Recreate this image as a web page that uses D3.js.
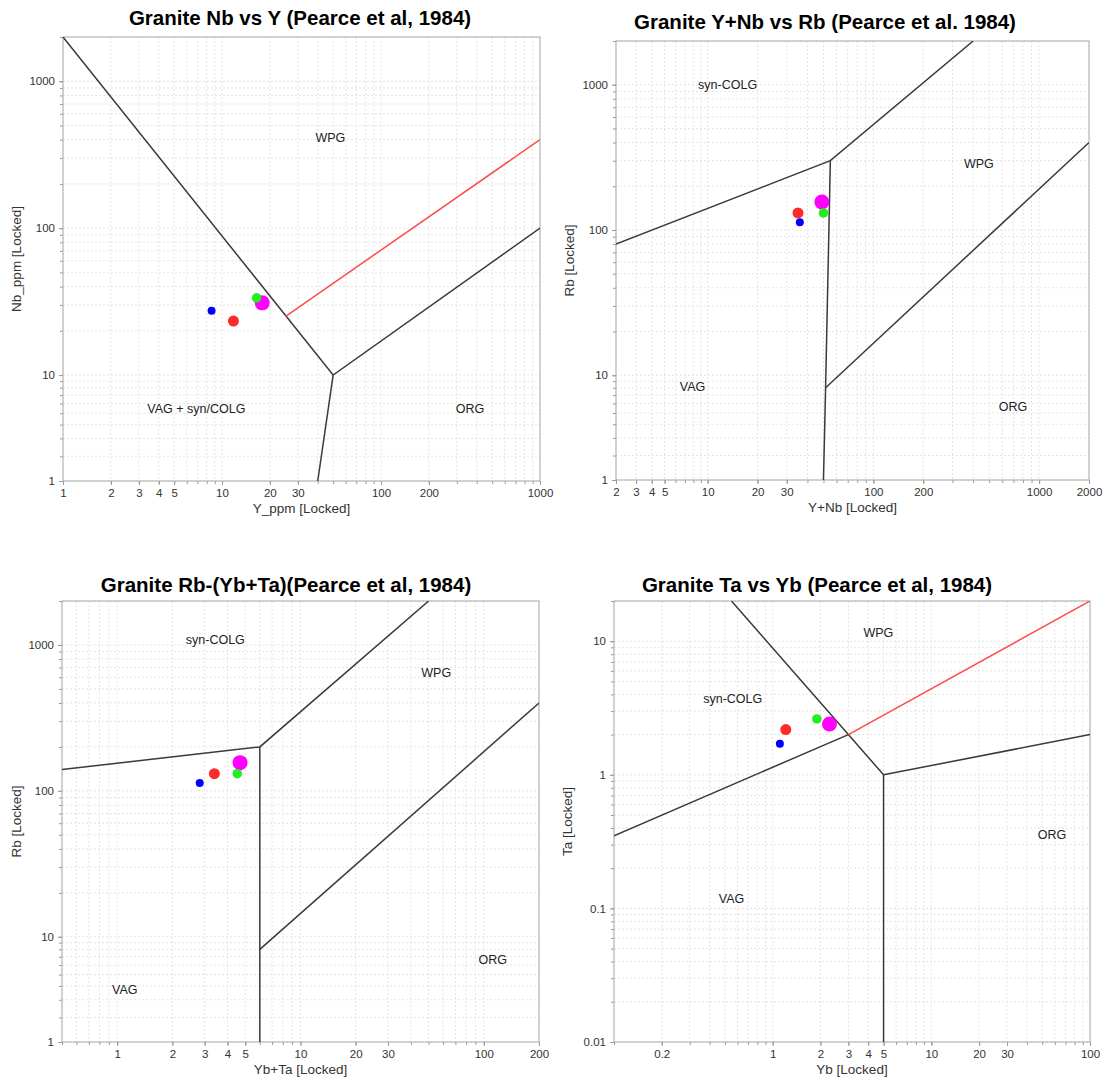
<!DOCTYPE html>
<html><head><meta charset="utf-8">
<script src="https://cdn.jsdelivr.net/npm/d3@7"></script>
<style>
body{margin:0;background:#fff;font-family:"Liberation Sans",Arial,sans-serif;}
</style></head>
<body><svg id="c" width="1103" height="1080"></svg>
<script>
// ---- sample data (4 samples) ----
const samples = ["S1","S2","S3","S4"];
const Y_ppm  = [8.6, 11.8, 16.5, 17.9];
const Nb_ppm = [27.4, 23.3, 33.5, 31.0];
const Rb_ppm = [113, 131, 131, 156];
const Yb_ppm = [1.11, 1.21, 1.90, 2.28];
const Ta_ppm = [1.71, 2.18, 2.62, 2.40];
const YNb = Y_ppm.map((v,i)=>v+Nb_ppm[i]);
const YbTa = Yb_ppm.map((v,i)=>v+Ta_ppm[i]);

// ---- tick labels ----
const p1XTicks = [1,2,3,4,5,10,20,30,100,200,1000];
const p1YTicks = [1,10,100,1000];
const p2XTicks = [2,3,4,5,10,20,30,100,200,1000,2000];
const p2YTicks = [1,10,100,1000];
const p3XTicks = [1,2,3,4,5,10,20,30,100,200];
const p3YTicks = [1,10,100,1000];
const p4XTicks = [0.2,1,2,3,4,5,10,20,30,100];
const p4YTicks = [0.01,0.1,1,10];

// ---- field boundaries (Pearce et al. 1984) ----
const p1Lines = [[[1,2000],[50,10],[1000,100]], [[50,10],[40,1]]];
const p1Red   = [[[25,25],[1000,400]]];
const p2Lines = [[[2,80],[55,300],[400,2000]], [[55,300],[51.5,8],[50,1]], [[51.5,8],[2000,400]]];
const p2Red   = [];
const p3Lines = [[[0.5,140],[6,200],[50,2000]], [[6,200],[6,1]], [[6,8],[200,400]]];
const p3Red   = [];
const p4Lines = [[[0.55,20],[3,2],[5,1]], [[0.1,0.35],[3,2]], [[5,1],[5,0.01]], [[5,1],[100,2]]];
const p4Red   = [[[3,2],[100,20]]];

// ---- field labels [text, x, y] in data units ----
const p1Labels = [["WPG",48,410],["VAG + syn/COLG",6.9,5.5],["ORG",363,5.5]];
const p2Labels = [["syn-COLG",13.2,1000],["WPG",433,285],["VAG",7.9,8.2],["ORG",695,5.6]];
const p3Labels = [["syn-COLG",3.43,1080],["WPG",55,650],["ORG",112,6.6],["VAG",1.1,3.75]];
const p4Labels = [["WPG",4.64,11.5],["syn-COLG",0.56,3.69],["VAG",0.55,0.119],["ORG",57.6,0.357]];

// ---- styles ----
const pointColors = ["#0000ff","#ff2a2a","#22ee22","#ff00ff"];
const pointRadius = [4,5.5,4.8,7.5];
const drawOrder = [0,1,3,2];

// JFreeChart-style adjusted log (values < 10 compressed)
function adj(v){ return v < 10 ? v + (10 - v) / 10 : v; }
const ident = v => v;

const svg = d3.select("#c");

function minorTicks(lo, hi){
  const out=[];
  for(let e=-3;e<=4;e++){
    for(let m=1;m<=9;m++){
      const v=+(m*Math.pow(10,e)).toPrecision(6);
      if(v>=lo-1e-9 && v<=hi+1e-9) out.push(v);
    }
  }
  return out;
}

function panel(cfg){
  const {left,right,top,bottom} = cfg;
  const tx = cfg.xAdj ? adj : ident, ty = cfg.yAdj ? adj : ident;
  const bx = d3.scaleLog().domain(cfg.xDom.map(tx)).range([left,right]);
  const by = d3.scaleLog().domain(cfg.yDom.map(ty)).range([bottom,top]);
  const sx = v => bx(tx(v)), sy = v => by(ty(v));
  const g = svg.append("g");
  const clipId = "clip"+cfg.id;
  g.append("clipPath").attr("id",clipId).append("rect")
    .attr("x",left).attr("y",top).attr("width",right-left).attr("height",bottom-top);

  const mx = minorTicks(cfg.xDom[0], cfg.xDom[1]);
  const my = minorTicks(cfg.yDom[0], cfg.yDom[1]);
  // grid
  g.append("g").selectAll("line").data(mx).join("line")
    .attr("x1",d=>sx(d)).attr("x2",d=>sx(d)).attr("y1",top).attr("y2",bottom)
    .attr("stroke","#e4e4e4").attr("stroke-width",1).attr("stroke-dasharray","2,2");
  g.append("g").selectAll("line").data(my).join("line")
    .attr("y1",d=>sy(d)).attr("y2",d=>sy(d)).attr("x1",left).attr("x2",right)
    .attr("stroke","#e4e4e4").attr("stroke-width",1).attr("stroke-dasharray","2,2");

  // axes
  const styleAxis = a => { a.select(".domain").remove(); a.selectAll("line").attr("stroke","#999");
    a.selectAll("text").attr("font-size",11.5).attr("fill","#333").attr("font-family","Liberation Sans, Arial, sans-serif"); };
  g.append("g").attr("transform",`translate(0,${bottom})`)
    .call(d3.axisBottom(bx).tickValues(mx.map(tx)).tickFormat("").tickSize(3)).call(styleAxis);
  g.append("g").attr("transform",`translate(0,${bottom})`)
    .call(d3.axisBottom(bx).tickValues(cfg.xTicks.map(tx)).tickFormat((d,i)=>String(cfg.xTicks[i])).tickSize(4).tickPadding(4)).call(styleAxis);
  g.append("g").attr("transform",`translate(${left},0)`)
    .call(d3.axisLeft(by).tickValues(my.map(ty)).tickFormat("").tickSize(3)).call(styleAxis);
  g.append("g").attr("transform",`translate(${left},0)`)
    .call(d3.axisLeft(by).tickValues(cfg.yTicks.map(ty)).tickFormat((d,i)=>String(cfg.yTicks[i])).tickSize(4).tickPadding(4)).call(styleAxis);

  // border
  g.append("rect").attr("x",left).attr("y",top).attr("width",right-left).attr("height",bottom-top)
    .attr("fill","none").attr("stroke","#aaa").attr("stroke-width",1);

  const line = d3.line().x(d=>sx(d[0])).y(d=>sy(d[1]));
  const lg = g.append("g").attr("clip-path",`url(#${clipId})`);
  lg.selectAll("path.b").data(cfg.lines).join("path").attr("class","b")
    .attr("d",line).attr("fill","none").attr("stroke","#3a3a3a").attr("stroke-width",1.5);
  lg.selectAll("path.r").data(cfg.red).join("path").attr("class","r")
    .attr("d",line).attr("fill","none").attr("stroke","#ff4a4a").attr("stroke-width",1.5);

  // field labels
  g.append("g").selectAll("text").data(cfg.labels).join("text")
    .attr("x",d=>sx(d[1])).attr("y",d=>sy(d[2])).attr("dy","0.35em")
    .attr("text-anchor","middle").attr("font-size",12.5).attr("fill","#222").text(d=>d[0]);

  // points
  g.append("g").attr("clip-path",`url(#${clipId})`).selectAll("circle").data(drawOrder).join("circle")
    .attr("cx",i=>sx(cfg.xs[i])).attr("cy",i=>sy(cfg.ys[i]))
    .attr("r",i=>pointRadius[i]).attr("fill",i=>pointColors[i]);

  // titles
  g.append("text").attr("x",cfg.titleX).attr("y",cfg.titleY).attr("text-anchor","middle")
    .attr("font-size",20.5).attr("font-weight","bold").attr("fill","#000").text(cfg.title);
  g.append("text").attr("x",(left+right)/2).attr("y",bottom+32).attr("text-anchor","middle")
    .attr("font-size",13.5).attr("fill","#333").text(cfg.xLabel);
  g.append("text").attr("transform",`translate(${cfg.yLabelX},${(top+bottom)/2}) rotate(-90)`)
    .attr("text-anchor","middle").attr("font-size",13.5).attr("fill","#333").text(cfg.yLabel);
}

panel({id:1,left:63,right:540,top:37,bottom:481,xDom:[1,1000],yDom:[1,2000],xAdj:false,yAdj:true,
  xTicks:p1XTicks,yTicks:p1YTicks,lines:p1Lines,red:p1Red,labels:p1Labels,xs:Y_ppm,ys:Nb_ppm,
  title:"Granite Nb vs Y (Pearce et al, 1984)",titleX:300,titleY:25,xLabel:"Y_ppm [Locked]",yLabel:"Nb_ppm [Locked]",yLabelX:21});
panel({id:2,left:616,right:1089,top:41,bottom:480,xDom:[2,2000],yDom:[1,2000],xAdj:true,yAdj:true,
  xTicks:p2XTicks,yTicks:p2YTicks,lines:p2Lines,red:p2Red,labels:p2Labels,xs:YNb,ys:Rb_ppm,
  title:"Granite Y+Nb vs Rb (Pearce et al. 1984)",titleX:825,titleY:29,xLabel:"Y+Nb [Locked]",yLabel:"Rb [Locked]",yLabelX:574});
panel({id:3,left:62,right:539,top:601,bottom:1042,xDom:[0.5,200],yDom:[1,2000],xAdj:false,yAdj:true,
  xTicks:p3XTicks,yTicks:p3YTicks,lines:p3Lines,red:p3Red,labels:p3Labels,xs:YbTa,ys:Rb_ppm,
  title:"Granite Rb-(Yb+Ta)(Pearce et al, 1984)",titleX:286,titleY:592,xLabel:"Yb+Ta [Locked]",yLabel:"Rb [Locked]",yLabelX:21});
panel({id:4,left:614,right:1090,top:601,bottom:1042,xDom:[0.1,100],yDom:[0.01,20],xAdj:false,yAdj:false,
  xTicks:p4XTicks,yTicks:p4YTicks,lines:p4Lines,red:p4Red,labels:p4Labels,xs:Yb_ppm,ys:Ta_ppm,
  title:"Granite Ta vs Yb (Pearce et al, 1984)",titleX:817,titleY:592,xLabel:"Yb [Locked]",yLabel:"Ta [Locked]",yLabelX:572});
</script></body></html>
